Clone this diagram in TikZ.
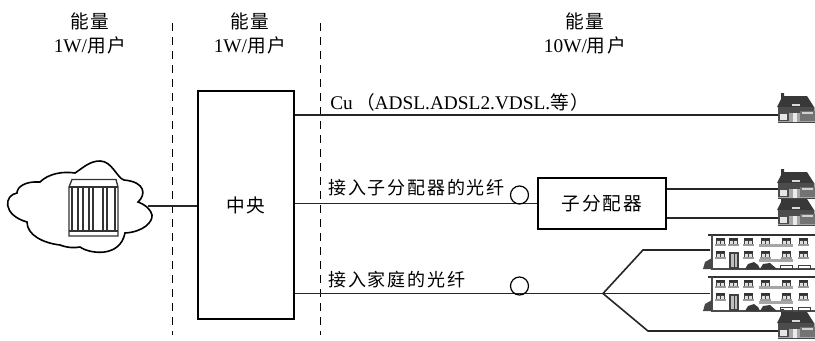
\documentclass[tikz,border=0pt]{standalone}
\usepackage{fontspec}
\setmainfont{Liberation Serif}
\newfontfamily\cjk[LetterSpace=10,Scale=0.965]{Noto Sans CJK SC}
\newcommand{\zh}[1]{{\cjk #1}}
\tikzset{
  x=0.75pt,y=-0.75pt,
  wire/.style={line width=1.2pt,black!85},
  divider/.style={line width=0.75pt,dash pattern=on 6pt off 4.5pt},
  block/.style={draw,line width=1.5pt,minimum height=0pt,inner sep=0pt,font=\fontsize{14.5}{16}\selectfont},
  headline/.style={font=\fontsize{14.5}{17.5}\selectfont,align=center,inner sep=0pt},
  tag/.style={font=\fontsize{14.5}{16}\selectfont,anchor=west,inner sep=0pt},
  zhtag/.style={tag,font=\fontsize{14}{16}\selectfont},
  coil/.style={draw,circle,line width=0.9pt,minimum size=13.5pt,inner sep=0pt},
  house/.pic={
    \fill[black!78] (-1,14) -- (3,6) -- (3,0) -- (6,0) -- (6,3) -- (29,3) -- (36,14) -- cycle;
    \fill[black!35] (0,14) rectangle (37,30);
    \fill[black!70] (0,14) rectangle (36,20);
    \fill[black!72] (0,28.5) rectangle (37,30);
    \fill[black!15] (14,11) rectangle (22,13);
    \fill[black!70] (0,20) rectangle (11,28);
    \fill[black!10] (2,21) rectangle (9,27);
    \fill[black!8] (15,20) rectangle (19,29);
    \fill[black!55] (22,18) rectangle (37,28);
    \fill[black!18] (24,19) rectangle (35,21);
  },
  win/.pic={
    \fill[black!80] (-4.5,-4) rectangle (4.5,-2);
    \draw[black!75,line width=0.6pt,fill=black!12] (-4,-2) rectangle (4,3);
    \draw[black!75,line width=0.6pt] (0,-2) -- (0,3);
    \fill[black!40] (-5.5,1.5) rectangle (5.5,4);
  },
  flats/.pic={
    \fill[black!80] (-2,-16) rectangle (105,-14);
    \draw[black!70,line width=1pt] (2,-15) -- (2,19) -- (105,19);
    \fill[black!72] (-7,19) -- (-5,12) -- (2,8) -- (2,19) -- cycle;
    \foreach \u in {10,23,38,55,76,93} \pic at (\u,-8) {win};
    \foreach \u in {10,38,55,76,93} \pic at (\u,5) {win};
    \draw[black!75,line width=0.9pt,fill=black!25] (20,3) rectangle (28,18);
    \draw[black!75,line width=0.7pt] (24,3) -- (24,18);
    \fill[black!35] (49,-6) rectangle (83,-3);
    \fill[black!35] (49,9) rectangle (83,12);
    \fill[black!78] (35,19) -- (38,14) -- (44,12) -- (48,15) -- (50,19) -- cycle;
    \fill[black!78] (50,19) -- (53,14) -- (60,13) -- (67,19) -- cycle;
    \draw[black!75,line width=0.7pt] (70,15) rectangle (82,19) (88,15) rectangle (100,19);
  }
}
\begin{document}
\begin{tikzpicture}
\useasboundingbox (0,0) rectangle (815,340);
% voltage-domain dividers
\draw[divider] (172,23) -- (172,335);
\draw[divider] (320,23) -- (320,335);
% column headings
\node[headline] (h1) at (90,33.5) {\zh{能量}\\1W/\zh{用户}};
\node[headline] (h2) at (250,33.5) {\zh{能量}\\1W/\zh{用户}};
\node[headline] (h3) at (585,33.5) {\zh{能量}\\10W/\zh{用户}};
% central office and sub-splitter
\node[block,minimum width=72pt,minimum height=171pt] (co) at (246,205) {\zh{中央}};
\node[block,minimum width=96pt,minimum height=38pt] (sub) at (602,203.5) {\zh{子分配器}};
% network cloud
\draw[line width=1.2pt,fill=white] (138,202)
  .. controls (146,195) and (146,182) .. (124,180)
  .. controls (117,178) and (112,161) .. (100,161)
  .. controls (90,161) and (84,167) .. (75,173)
  .. controls (62,171) and (48,174) .. (40,182)
  .. controls (25,181) and (17,187) .. (17,193)
  .. controls (4,195) and (2,215) .. (27,222)
  .. controls (27,235) and (43,243) .. (60,245)
  .. controls (68,248) and (75,248) .. (80,247)
  .. controls (90,254) and (120,258) .. (125,233)
  .. controls (143,232) and (153,222) .. (152,215)
  .. controls (151,210) and (146,205) .. (138,202) -- cycle;
\coordinate (netport) at (148,206);
\draw[line width=1pt,black!80,fill=white] (69,187) -- (72,179.5) -- (116,179.5) -- (118,187) -- (118,236) -- (69,236) -- cycle;
\draw[line width=0.9pt,black!80] (69,187) -- (118,187) (69,231) -- (118,231);
\foreach \u in {72,78,83,89,93,103,107,115} \draw[line width=0.8pt,black!80] (\u,188) -- (\u,231);
% subscriber premises
\pic (u6) at (778,309) {house};
\pic (u1) at (778,93) {house};
\pic (u3) at (778,196) {house};
\pic (u2) at (778,169) {house};
\pic (u4) at (710,250) {flats};
\pic (u5) at (710,292) {flats};
\coordinate (p1) at (778,115);
\coordinate (p2) at (778,189);
\coordinate (p3) at (778,218);
\coordinate (p4) at (710,250);
\coordinate (p5) at (710,293.5);
\coordinate (p6) at (778,331);
% links
\coordinate (cu) at (co.east |- p1);
\coordinate (fh) at (co.east |- p5);
\coordinate (fork) at (603,293.5);
\coordinate (k1) at (643,250);
\coordinate (k2) at (648,331);
\draw[wire] (netport) -- (netport -| co.west);
\draw[wire] (cu) -- (p1);
\draw[wire] (co.east |- sub.west) -- (sub.west);
\draw[wire] (sub.east |- p2) -- (p2);
\draw[wire] (sub.east |- p3) -- (p3);
\draw[wire] (fh) -- (fork) -- (p5);
\draw[wire] (fork) -- (k1) -- (p4);
\draw[wire] (fork) -- (k2) -- (p6);
% link labels
\node[tag] (t1) at (330,102.5) {Cu\,\zh{（}ADSL.ADSL2.VDSL.\zh{等）}};
\node[zhtag] (t2) at (328,187.5) {\zh{接入子分配器的光纤}};
\node[zhtag] (t3) at (328,280) {\zh{接入家庭的光纤}};
\node[coil] (c1) at (519.5,195) {};
\node[coil] (c2) at (519.5,286) {};
\end{tikzpicture}
\end{document}
